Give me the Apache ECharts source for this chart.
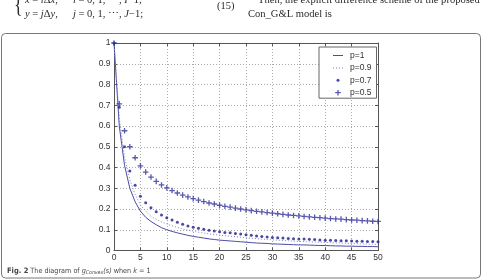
<!DOCTYPE html>
<html><head><meta charset="utf-8">
<script src="https://cdn.jsdelivr.net/npm/echarts@6/dist/echarts.min.js"></script>
<style>html,body{margin:0;padding:0;background:#fff}#c{width:482px;height:280px}</style>
</head><body><div id="c"></div><script>
// ---- data ----
const xValues = [0,1,2,3,4,5,6,7,8,9,10,11,12,13,14,15,16,17,18,19,20,21,22,23,24,25,26,27,28,29,30,31,32,33,34,35,36,37,38,39,40,41,42,43,44,45,46,47,48,49,50];
const seriesNames = ['p=1', 'p=0.9', 'p=0.7', 'p=0.5'];
const p1Values = [1,0.6,0.41,0.3,0.235,0.19,0.16,0.14,0.124,0.11,0.1,0.092,0.085,0.079,0.073,0.068,0.064,0.06,0.056,0.053,0.05,0.048,0.046,0.044,0.042,0.04,0.038,0.036,0.035,0.034,0.032,0.031,0.03,0.029,0.028,0.027,0.027,0.026,0.025,0.024,0.024,0.023,0.022,0.022,0.021,0.021,0.02,0.02,0.019,0.019,0.018];
const p09Values = [1,0.64,0.45,0.34,0.27,0.22,0.19,0.165,0.15,0.138,0.128,0.119,0.111,0.104,0.098,0.093,0.088,0.084,0.08,0.077,0.074,0.071,0.069,0.067,0.064,0.061,0.059,0.057,0.055,0.053,0.051,0.05,0.048,0.047,0.045,0.044,0.043,0.042,0.041,0.04,0.039,0.038,0.037,0.036,0.035,0.034,0.033,0.032,0.031,0.03,0.029];
const p07Values = [1,0.69,0.5,0.383,0.315,0.262,0.23,0.206,0.187,0.171,0.158,0.147,0.136,0.126,0.118,0.112,0.107,0.102,0.097,0.094,0.09,0.087,0.085,0.082,0.079,0.076,0.073,0.07,0.068,0.065,0.063,0.061,0.06,0.058,0.057,0.056,0.055,0.054,0.053,0.051,0.05,0.049,0.048,0.047,0.047,0.046,0.045,0.044,0.043,0.043,0.042];
const p05Values = [1,0.707,0.577,0.5,0.447,0.408,0.378,0.354,0.333,0.316,0.302,0.289,0.277,0.267,0.258,0.25,0.243,0.236,0.229,0.224,0.218,0.213,0.209,0.204,0.2,0.196,0.192,0.189,0.186,0.183,0.18,0.177,0.174,0.171,0.169,0.167,0.164,0.162,0.16,0.158,0.156,0.154,0.152,0.151,0.149,0.147,0.146,0.144,0.143,0.141,0.14];

const pairs = arr => xValues.map((x, i) => [x, arr[i]]);
const sans = 'Liberation Sans, Arial, Helvetica, sans-serif';
const serif = 'Liberation Serif, Times New Roman, serif';
const narrow = 'Liberation Sans Narrow, Arial Narrow, DejaVu Sans Condensed, Liberation Sans, sans-serif';

const plusSym = 'path://M0,0M10,10M4.35,2.2H5.65V4.35H7.8V5.65H5.65V7.8H4.35V5.65H2.2V4.35H4.35Z';
const dotSym = 'path://M0,0M10,10M3.5,5a1.5,1.5 0 1,0 3,0a1.5,1.5 0 1,0 -3,0Z';

const axisColor = '#555';
const gridLine = {show: true, lineStyle: {color: '#aaa', width: 1, type: [1, 2]}};
const txt = '#2a2a2a';

const chart = echarts.init(document.getElementById('c'), null, {renderer: 'canvas'});
chart.setOption({
  animation: false,
  backgroundColor: '#fff',
  grid: {left: 114, top: 43, right: 104, bottom: 29.5},
  xAxis: [
    {type: 'value', min: 0, max: 50, interval: 5, position: 'bottom',
     axisLine: {show: true, onZero: false, lineStyle: {color: axisColor}},
     axisTick: {show: true, inside: true, length: 3, lineStyle: {color: axisColor}},
     axisLabel: {fontSize: 8.5, color: '#333', margin: 3, fontFamily: sans},
     splitLine: gridLine},
    {type: 'value', min: 0, max: 50, interval: 5, position: 'top',
     axisLine: {show: true, onZero: false, lineStyle: {color: axisColor}},
     axisTick: {show: true, inside: true, length: 3, lineStyle: {color: axisColor}},
     axisLabel: {show: false}, splitLine: {show: false}}
  ],
  yAxis: [
    {type: 'value', min: 0, max: 1, interval: 0.1, position: 'left',
     axisLine: {show: true, onZero: false, lineStyle: {color: axisColor}},
     axisTick: {show: true, inside: true, length: 3, lineStyle: {color: axisColor}},
     axisLabel: {fontSize: 8.5, color: '#333', margin: 3.5, fontFamily: sans},
     splitLine: gridLine},
    {type: 'value', min: 0, max: 1, interval: 0.1, position: 'right',
     axisLine: {show: true, onZero: false, lineStyle: {color: axisColor}},
     axisTick: {show: true, inside: true, length: 3, lineStyle: {color: axisColor}},
     axisLabel: {show: false}, splitLine: {show: false}}
  ],
  legend: {
    orient: 'vertical', left: 319, top: 47,
    padding: [4, 5, 1, 12], itemGap: 3.4, itemWidth: 14, itemHeight: 8,
    backgroundColor: '#fff', borderColor: '#666', borderWidth: 1,
    textStyle: {fontSize: 8.5, color: '#333', fontFamily: sans},
    itemStyle: {borderWidth: 0},
    data: [
      {name: seriesNames[0], icon: 'path://M0,0M14,8M2,3.5H12V4.5H2Z'},
      {name: seriesNames[1], icon: 'path://M0,0M14,8M2,3.5h1v1h-1zM5,3.5h1v1h-1zM8,3.5h1v1h-1zM11,3.5h1v1h-1z'},
      {name: seriesNames[2], icon: 'path://M0,0M14,8M5.5,4a1.5,1.5 0 1,0 3,0a1.5,1.5 0 1,0 -3,0Z'},
      {name: seriesNames[3], icon: 'path://M0,0M14,8M6.35,1.2H7.65V3.35H9.8V4.65H7.65V6.8H6.35V4.65H4.2V3.35H6.35Z'}
    ]
  },
  series: [
    {name: seriesNames[0], type: 'line', data: pairs(p1Values), symbol: 'none', clip: false,
     color: '#4c4ca8', itemStyle: {color: '#4c4ca8', borderWidth: 0},
     lineStyle: {color: '#4c4ca8', width: 1}, z: 2},
    {name: seriesNames[1], type: 'line', data: pairs(p09Values), symbol: 'none', clip: false,
     color: '#8080c4', itemStyle: {color: '#8080c4', borderWidth: 0},
     lineStyle: {color: '#8080c4', width: 1, type: [1, 2]}, z: 2},
    {name: seriesNames[2], type: 'scatter', data: pairs(p07Values), symbol: dotSym, symbolSize: 10, clip: false,
     itemStyle: {color: '#1c1c8e', borderWidth: 0}, z: 3},
    {name: seriesNames[3], type: 'scatter', data: pairs(p05Values), symbol: plusSym, symbolSize: 10, clip: false,
     itemStyle: {color: '#30309a', borderWidth: 0}, z: 4}
  ],
  graphic: [
    {type: 'rect', shape: {x: 1.5, y: 33.5, width: 479, height: 244.5, r: 4},
     style: {fill: 'none', stroke: '#777', lineWidth: 1}, z: 100},
    {type: 'text', x: 14, y: 5, scaleX: 0.7, style: {text: '{', font: '26px ' + serif, fill: txt, textVerticalAlign: 'middle'}},
    {type: 'text', x: 25, y: 0.5, style: {text: '{i|x} = {i|i}Δ{i|x},', fill: txt, font: '10.5px ' + serif, textVerticalAlign: 'middle',
      rich: {i: {fontStyle: 'italic', fontSize: 10.5, fontFamily: serif}}}},
    {type: 'text', x: 73, y: 0.5, style: {text: '{i|i} = 0, 1, ⋯, {i|I}−1;', fill: txt, font: '10.5px ' + serif, textVerticalAlign: 'middle',
      rich: {i: {fontStyle: 'italic', fontSize: 10.5, fontFamily: serif}}}},
    {type: 'text', x: 25, y: 14, style: {text: '{i|y} = {i|j}Δ{i|y},', fill: txt, font: '10.5px ' + serif, textVerticalAlign: 'middle',
      rich: {i: {fontStyle: 'italic', fontSize: 10.5, fontFamily: serif}}}},
    {type: 'text', x: 73, y: 14, style: {text: '{i|j} = 0, 1, ⋯, {i|J}−1;', fill: txt, font: '10.5px ' + serif, textVerticalAlign: 'middle',
      rich: {i: {fontStyle: 'italic', fontSize: 10.5, fontFamily: serif}}}},
    {type: 'text', x: 217, y: 6.5, style: {text: '(15)', fill: txt, font: '10.5px ' + serif, textVerticalAlign: 'middle'}},
    {type: 'text', x: 258, y: 0.5, style: {text: 'Then, the explicit difference scheme of the proposed', fill: txt, font: '10.55px ' + serif, textVerticalAlign: 'middle'}},
    {type: 'text', x: 248, y: 14, style: {text: 'Con_G&L model is', fill: txt, font: '10.55px ' + serif, textVerticalAlign: 'middle'}},
    {type: 'text', x: 7, y: 271.5, style: {
      text: '{b|Fig. 2} {n|The diagram of }{i|g}{s|Convex}{i|(s)}{n| when }{i|k}{n| = 1}',
      fill: '#444', font: '7px ' + narrow, textVerticalAlign: 'middle',
      rich: {
        b: {fontWeight: 'bold', fontSize: 7.5, fontFamily: narrow, color: '#222'},
        n: {fontSize: 7.2, fontFamily: narrow, color: '#555'},
        i: {fontStyle: 'italic', fontSize: 7.2, fontFamily: narrow, color: '#555'},
        s: {fontStyle: 'italic', fontSize: 5.2, fontFamily: narrow, color: '#555', verticalAlign: 'bottom', padding: [3, 0, 0, 0]}
      }}}
  ]
});
</script></body></html>
